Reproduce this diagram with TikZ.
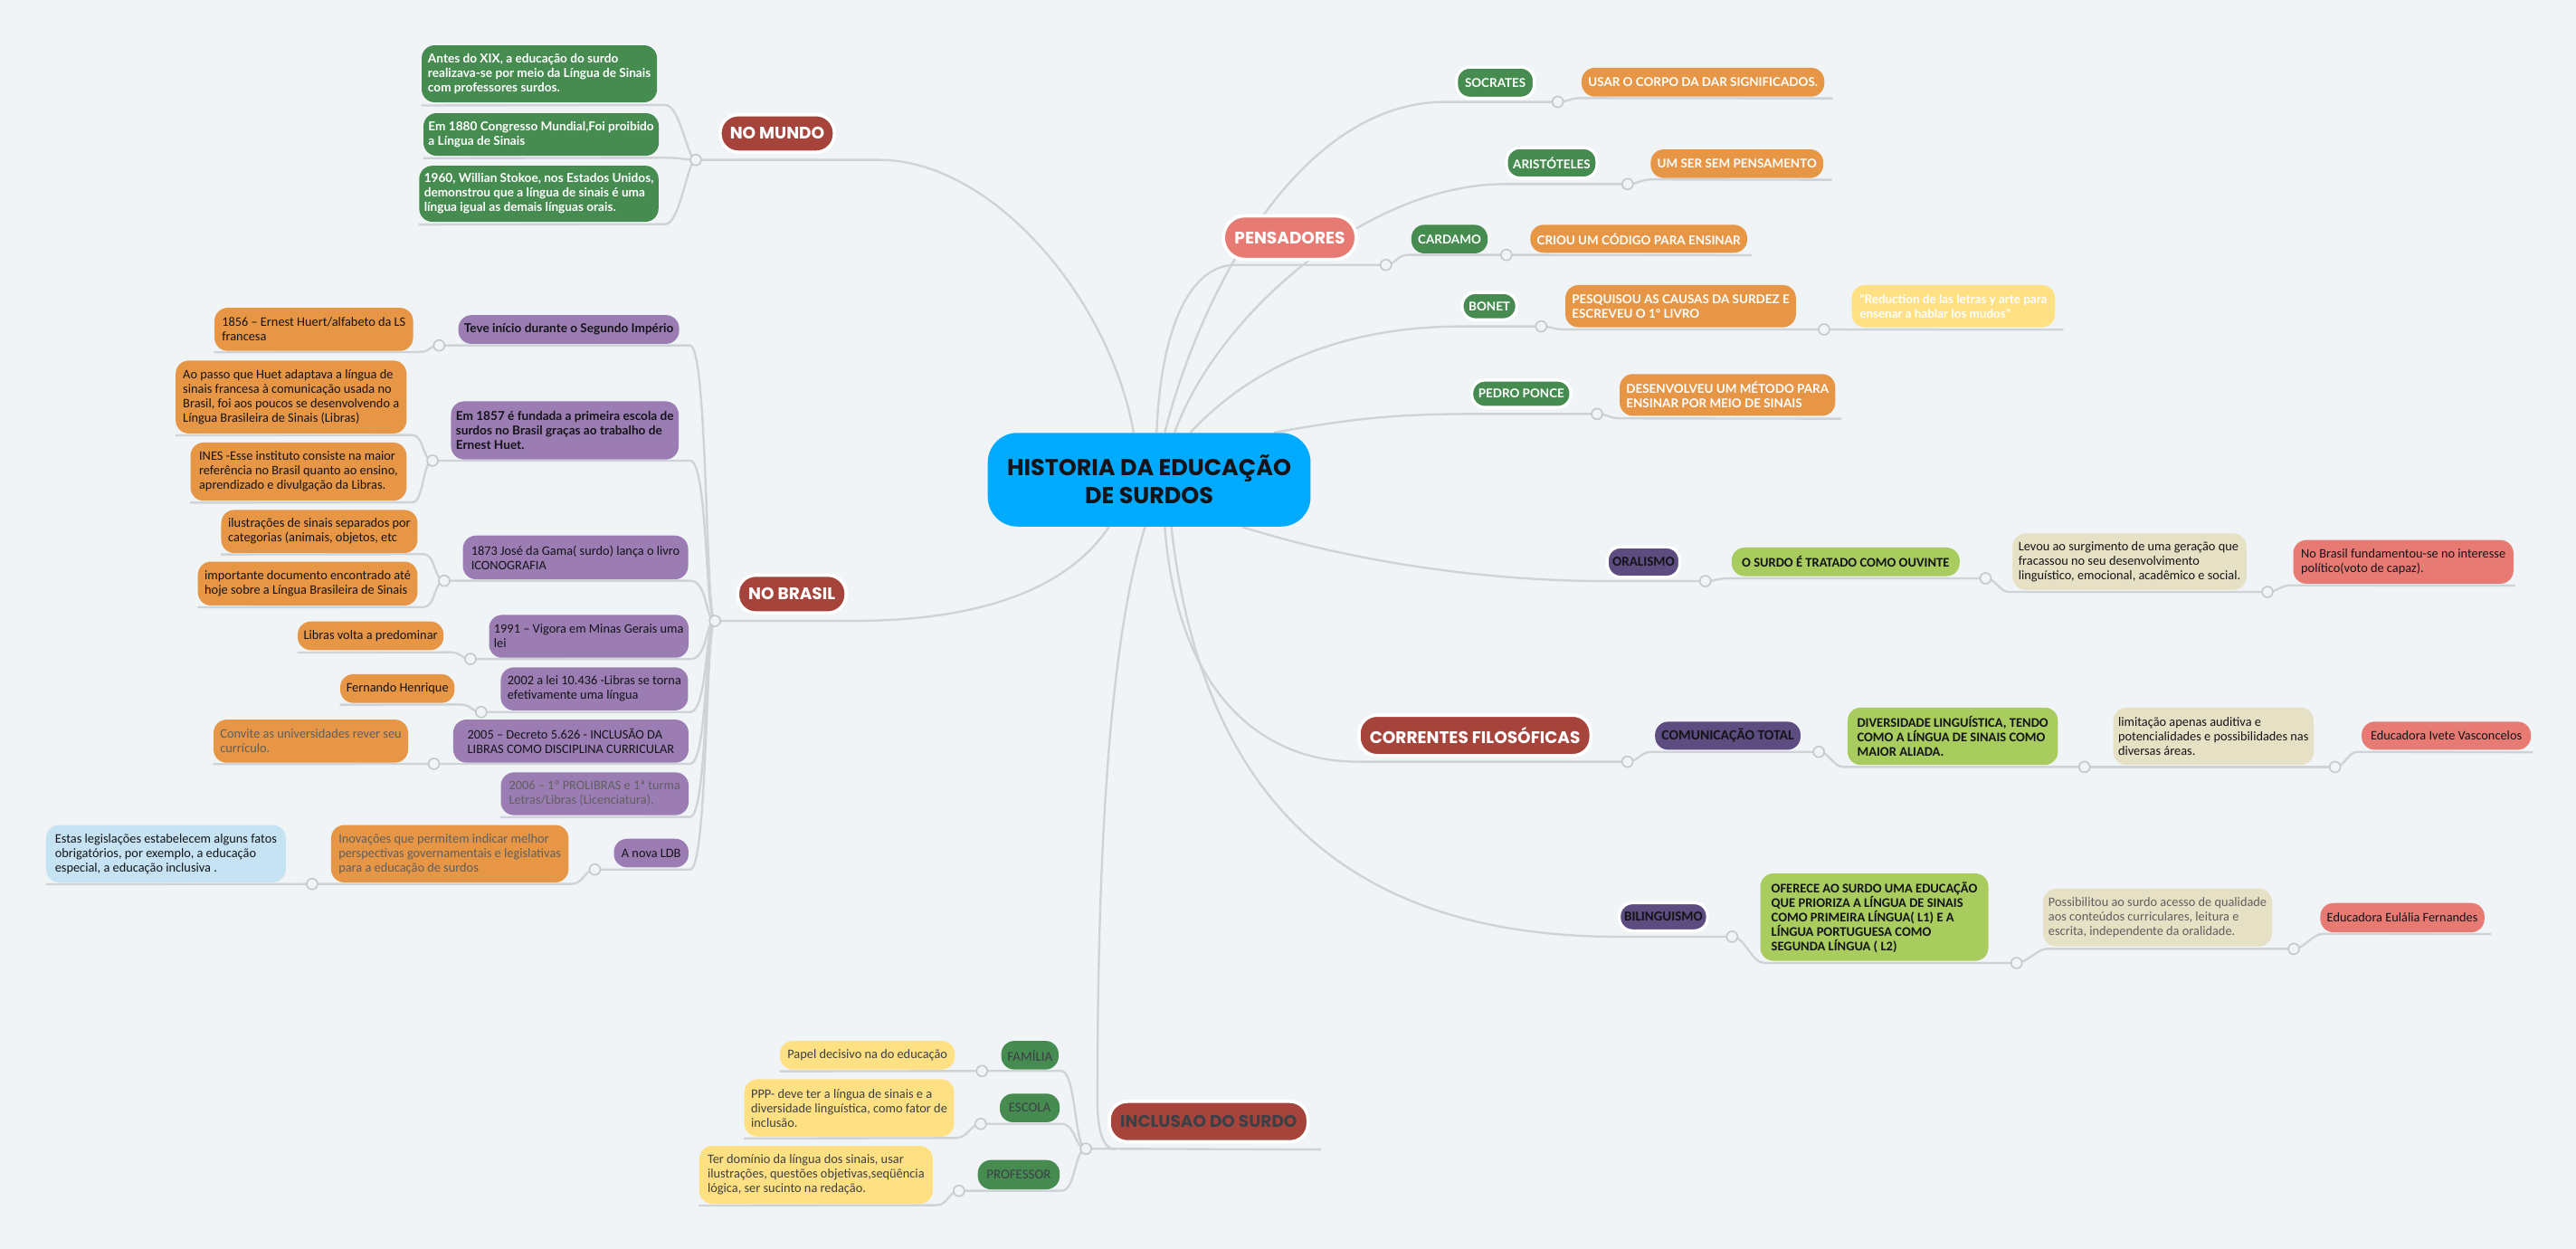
\documentclass[tikz,border=0pt]{standalone}
\usepackage{fontspec}
\setmainfont{Carlito}
\newfontfamily\headfont{Poppins}
\newfontfamily\labelfont{Lato}
\usetikzlibrary{calc}
\definecolor{paperbg}{RGB}{240,244,247}
\definecolor{linegray}{RGB}{206,211,215}
\definecolor{dotgray}{RGB}{196,201,206}
\definecolor{hubblue}{RGB}{0,170,255}
\definecolor{darkred}{RGB}{166,68,60}
\definecolor{salmon}{RGB}{231,123,116}
\definecolor{leaf}{RGB}{70,139,80}
\definecolor{amber}{RGB}{231,150,70}
\definecolor{lilac}{RGB}{155,125,180}
\definecolor{plum}{RGB}{93,76,128}
\definecolor{lime}{RGB}{168,204,94}
\definecolor{sand}{RGB}{230,224,196}
\definecolor{butter}{RGB}{255,224,130}
\definecolor{sky}{RGB}{197,227,243}
\definecolor{ink}{RGB}{20,20,24}
\definecolor{mute}{RGB}{95,95,95}
\definecolor{slate}{RGB}{59,64,71}
\pgfdeclarelayer{paper}
\pgfdeclarelayer{links}
\pgfsetlayers{paper,links,main}

\begin{document}
\begin{tikzpicture}[x=1pt, y=-1pt,
    conn/.style={draw=linegray, line width=1.3},
    dot/.style={circle, draw=dotgray, fill=paperbg, line width=0.9, minimum size=6.6, inner sep=0},
    hub/.style={fill=hubblue, rounded corners=18, inner sep=0, align=center, text=ink, font=\headfont\bfseries\fontsize{14}{17}\selectfont},
    topic/.style={draw=white, line width=2, rounded corners=11, inner sep=0, text=white, font=\headfont\bfseries\fontsize{10.2}{11}\selectfont},
    capsbox/.style={rounded corners=8, inner xsep=4, inner ysep=0, text=white, align=left, font=\labelfont\bfseries\fontsize{7.4}{8.8}\selectfont},
    boldnote/.style={rounded corners=8, inner xsep=3, inner ysep=0, align=left, font=\labelfont\bfseries\fontsize{7.5}{8.8}\selectfont},
    note/.style={rounded corners=8, inner xsep=3, inner ysep=0, align=left, text=ink, font=\fontsize{7.9}{8.8}\selectfont},
    condbold/.style={rounded corners=8, inner xsep=4, inner ysep=0, align=left, text=ink, font=\bfseries\fontsize{8}{8.8}\selectfont}
]
\useasboundingbox (0,0) rectangle (1568,760);
\begin{pgfonlayer}{paper}
\fill[paperbg] (0,0) rectangle (1568,760);
\end{pgfonlayer}

% Central topic
\node[hub, minimum width=196.5, minimum height=57] (hist) at (699.5,291.9) {HISTORIA DA EDUCAÇÃO\\DE SURDOS};

% Main topics
\node[topic, fill=darkred, minimum width=69.6, minimum height=22.8] (mundo) at (473.1,81.2) {NO MUNDO};
\node[topic, fill=darkred, minimum width=66, minimum height=23] (brasil) at (482,361.5) {NO BRASIL};
\node[topic, fill=darkred, text=slate, minimum width=121, minimum height=24.6] (incl) at (735.7,682.5) {INCLUSAO DO SURDO};
\node[topic, fill=salmon, minimum width=80.8, minimum height=26.5, rounded corners=13] (pens) at (785.1,144.6) {PENSADORES};
\node[topic, fill=darkred, minimum width=141.2, minimum height=24.6] (corr) at (897.8,447.5) {CORRENTES FILOSÓFICAS};

% No mundo
\node[boldnote, fill=leaf, text=white, minimum width=143.3, minimum height=34.7] (mundoA) at (328.3,44.9) {Antes do XIX, a educação do surdo\\realizava-se por meio da Língua de Sinais\\com professores surdos.};
\node[boldnote, fill=leaf, text=white, minimum width=142.1, minimum height=25.9] (mundoB) at (329.4,81.8) {Em 1880 Congresso Mundial,Foi proibido\\a Língua de Sinais};
\node[boldnote, fill=leaf, text=white, minimum width=144.9, minimum height=34.1] (mundoC) at (328,117.9) {1960, Willian Stokoe, nos Estados Unidos,\\demonstrou que a língua de sinais é uma\\língua igual as demais línguas orais.};

% No Brasil
\node[boldnote, fill=lilac, text=ink, minimum width=134.4, minimum height=17.5] (brA) at (346.2,200.5) {Teve início durante o Segundo Império};
\node[boldnote, fill=lilac, text=ink, minimum width=137.8, minimum height=35.4] (brB) at (343.8,261.9) {Em 1857 é fundada a primeira escola de\\surdos no Brasil graças ao trabalho de\\Ernest Huet.};
\node[note, fill=lilac, minimum width=137.1, minimum height=26.6] (brC) at (350.3,339.2) {1873 José da Gama( surdo) lança o livro\\ICONOGRAFIA};
\node[note, fill=lilac, minimum width=120.8, minimum height=26.1] (brD) at (358.4,387.2) {1991 – Vigora em Minas Gerais uma\\lei};
\node[note, fill=lilac, minimum width=114, minimum height=26.2] (brE) at (361.8,419.2) {2002 a lei 10.436 -Libras se torna\\efetivamente uma língua};
\node[note, fill=lilac, minimum width=143.2, minimum height=26.2] (brF) at (347.5,451) {2005 – Decreto 5.626 - INCLUSÃO DA\\LIBRAS COMO DISCIPLINA CURRICULAR};
\node[note, fill=lilac, text=mute, minimum width=114.3, minimum height=26] (brG) at (362,483) {2006 – 1º  PROLIBRAS e 1ª turma\\Letras/Libras (Licenciatura).};
\node[note, fill=lilac, minimum width=45.4, minimum height=17.4] (brH) at (396.4,519.1) {A nova LDB};

\node[note, fill=amber, minimum width=120.9, minimum height=26.2] (oA) at (191,200.4) {1856 – Ernest Huert/alfabeto da LS\\francesa};
\node[note, fill=amber, minimum width=140.5, minimum height=44.4] (oB) at (177.2,241.6) {Ao passo que Huet adaptava a língua de\\sinais francesa à comunicação usada no\\Brasil, foi aos poucos se desenvolvendo a\\Língua Brasileira de Sinais (Libras)};
\node[note, fill=amber, minimum width=131.5, minimum height=35.4] (oC) at (181.7,287) {INES -Esse instituto consiste na maior\\referência no Brasil quanto ao ensino,\\aprendizado e divulgação da Libras.};
\node[note, fill=amber, minimum width=119.5, minimum height=26.2] (oD) at (194.4,323.4) {ilustrações de sinais separados por\\categorias (animais, objetos, etc};
\node[note, fill=amber, minimum width=133.7, minimum height=26.7] (oE) at (187.3,355.1) {importante documento encontrado até\\hoje sobre a Língua Brasileira de Sinais};
\node[note, fill=amber, minimum width=88.8, minimum height=17.4] (oF) at (225.6,386.9) {Libras volta a predominar};
\node[note, fill=amber, minimum width=69.6, minimum height=17.5] (oG) at (241.9,419) {Fernando Henrique};
\node[note, fill=amber, text=mute, minimum width=118.4, minimum height=26.2] (oH) at (189.2,451) {Convite as universidades rever seu\\currículo.};
\node[note, fill=amber, text=mute, minimum width=144.5, minimum height=34.9] (oI) at (273.8,519.5) {Inovações que permitem indicar melhor\\perspectivas governamentais e legislativas\\para a educação de surdos};
\node[note, fill=sky, minimum width=145.9, minimum height=34.9] (bI) at (101,519.5) {Estas legislações estabelecem alguns fatos\\obrigatórios, por exemplo, a educação\\especial, a educação inclusiva .};

% Inclusao do surdo
\node[note, fill=leaf, text=slate, font=\fontsize{8.2}{9}\selectfont, minimum width=34.9, minimum height=17.4] (fam) at (626.9,642.1) {FAMÍLIA};
\node[note, fill=leaf, text=slate, font=\fontsize{8.2}{9}\selectfont, minimum width=36.4, minimum height=17.4] (esc) at (626.8,674.2) {ESCOLA};
\node[note, fill=leaf, text=slate, font=\fontsize{8.2}{9}\selectfont, minimum width=49.8, minimum height=17.8] (prof) at (620.1,714.8) {PROFESSOR};
\node[note, fill=butter, text=slate, minimum width=106.5, minimum height=17.4] (yFam) at (528,642.1) {Papel decisivo na do educação};
\node[note, fill=butter, text=slate, minimum width=127.7, minimum height=34.9] (yEsc) at (516.9,674.2) {PPP- deve ter a língua de sinais e a\\diversidade linguística, como fator de\\inclusão.};
\node[note, fill=butter, text=slate, minimum width=142.1, minimum height=35.2] (yProf) at (496.7,714.9) {Ter domínio da língua dos sinais, usar\\ilustrações,  questões objetivas,seqüência\\lógica, ser sucinto na redação.};

% Pensadores
\node[capsbox, fill=leaf, draw=white, line width=1.8, minimum width=47.3, minimum height=18.8] (socr) at (910.2,50.3) {SOCRATES};
\node[capsbox, fill=leaf, draw=white, line width=1.8, minimum width=55, minimum height=18.4] (arist) at (944.5,99.1) {ARISTÓTELES};
\node[capsbox, fill=leaf, minimum width=45.4, minimum height=17.4] (card) at (882.3,145.5) {CARDAMO};
\node[capsbox, fill=leaf, draw=white, line width=1.8, minimum width=30.7, minimum height=16.5] (bonet) at (906.6,186.3) {BONET};
\node[capsbox, fill=leaf, draw=white, line width=1.8, minimum width=56.3, minimum height=16.6] (ponce) at (926,239.6) {PEDRO PONCE};
\node[capsbox, fill=amber, minimum width=145.2, minimum height=17.5] (socrA) at (1036.6,50) {USAR O CORPO DA DAR SIGNIFICADOS.};
\node[capsbox, fill=amber, minimum width=101, minimum height=17.4] (aristA) at (1057.3,99.6) {UM SER SEM PENSAMENTO};
\node[capsbox, fill=amber, minimum width=129.1, minimum height=17] (cardA) at (997.5,145.3) {CRIOU UM CÓDIGO PARA ENSINAR};
\node[capsbox, fill=amber, minimum width=138.2, minimum height=25.7] (bonetA) at (1023,186.3) {PESQUISOU AS CAUSAS DA SURDEZ E\\ESCREVEU O 1º LIVRO};
\node[capsbox, fill=butter, minimum width=123.7, minimum height=25.7] (bonetB) at (1189,186.3) {"Reduction de las letras y arte para\\ensenar a hablar los mudos"};
\node[capsbox, fill=amber, minimum width=127.2, minimum height=25.4] (ponceA) at (1051.5,240.3) {DESENVOLVEU UM MÉTODO PARA\\ENSINAR POR MEIO DE SINAIS};

% Correntes filosoficas
\node[condbold, fill=plum, draw=white, line width=1.8, inner xsep=3, font=\bfseries\fontsize{8.3}{9}\selectfont, minimum width=44.2, minimum height=18.4] (oral) at (1000.4,342) {ORALISMO};
\node[condbold, fill=plum, font=\bfseries\fontsize{8.6}{9}\selectfont, minimum width=87.7, minimum height=17.1] (comu) at (1051.7,447.7) {COMUNICAÇÃO TOTAL};
\node[condbold, fill=plum, draw=white, line width=1.8, inner xsep=3, font=\bfseries\fontsize{8.3}{9}\selectfont, minimum width=52.2, minimum height=17] (bili) at (1012.5,557.9) {BILINGUISMO};

\node[condbold, fill=lime, minimum width=138.8, minimum height=17.4] (oralA) at (1123.4,341.9) {O SURDO É TRATADO COMO OUVINTE};
\node[note, fill=sand, minimum width=142.4, minimum height=34.3] (oralB) at (1296.2,341.8) {Levou ao surgimento de uma geração que\\fracassou no seu desenvolvimento\\linguístico, emocional, acadêmico e social.};
\node[note, fill=salmon, minimum width=134, minimum height=26.6] (oralC) at (1462.9,341.9) {No Brasil fundamentou-se no  interesse\\político(voto de capaz).};

\node[condbold, fill=lime, minimum width=128, minimum height=34.9] (comuA) at (1188.6,448) {DIVERSIDADE LINGUÍSTICA, TENDO\\COMO A LÍNGUA DE SINAIS COMO\\MAIOR ALIADA.};
\node[note, fill=sand, minimum width=122, minimum height=34.9] (comuB) at (1347.3,448) {limitação apenas auditiva e\\potencialidades e possibilidades nas\\diversas áreas.};
\node[note, fill=salmon, minimum width=103, minimum height=17.1] (comuC) at (1489,447.7) {Educadora Ivete Vasconcelos};

\node[condbold, fill=lime, minimum width=138.8, minimum height=53.2] (biliA) at (1140.9,558.1) {OFERECE AO SURDO UMA EDUCAÇÃO\\QUE PRIORIZA A LÍNGUA DE SINAIS\\COMO PRIMEIRA LÍNGUA( L1) E A\\LÍNGUA PORTUGUESA COMO\\SEGUNDA LÍNGUA ( L2)};
\node[note, fill=sand, text=mute, minimum width=139.4, minimum height=35.2] (biliB) at (1313.3,558.3) {Possibilitou ao surdo acesso de qualidade\\aos conteúdos curriculares, leitura e\\escrita, independente da oralidade.};
\node[note, fill=salmon, minimum width=99.9, minimum height=17.8] (biliC) at (1462.3,558.4) {Educadora Eulália Fernandes};

% Junction dots
\node[dot] (jMundo) at (423.5,97.3) {};
\node[dot] (jBrasil) at (435.2,377.8) {};
\node[dot] (jBrA) at (267.3,210.2) {};
\node[dot] (jBrB) at (263.3,280.3) {};
\node[dot] (jBrC) at (270.4,353.4) {};
\node[dot] (jBrD) at (286.4,401) {};
\node[dot] (jBrE) at (292.9,433.3) {};
\node[dot] (jBrF) at (264.1,464.8) {};
\node[dot] (jBrH) at (362.1,529.1) {};
\node[dot] (jOI) at (190,537.9) {};
\node[dot] (jIncl) at (661,699) {};
\node[dot] (jFam) at (597.7,651.7) {};
\node[dot] (jEsc) at (596.9,683.9) {};
\node[dot] (jProf) at (583.7,724.6) {};
\node[dot] (jPens) at (843.6,161.2) {};
\node[dot] (jCard) at (916.9,155.1) {};
\node[dot] (jSocr) at (948.2,62) {};
\node[dot] (jArist) at (990.7,112) {};
\node[dot] (jBonet) at (938.1,198.6) {};
\node[dot] (jBonA) at (1110.3,200.5) {};
\node[dot] (jPonce) at (972.1,251.9) {};
\node[dot] (jOral) at (1038,353.6) {};
\node[dot] (jOralA) at (1208.6,351.9) {};
\node[dot] (jOralB) at (1380.2,360.2) {};
\node[dot] (jCorr) at (990.6,463.5) {};
\node[dot] (jComu) at (1107.1,457.5) {};
\node[dot] (jComuA) at (1268.8,466.7) {};
\node[dot] (jComuB) at (1421.3,466.7) {};
\node[dot] (jBili) at (1054.3,570) {};
\node[dot] (jBiliA) at (1227.5,586) {};
\node[dot] (jBiliB) at (1396.2,577.4) {};

\begin{pgfonlayer}{links}
% Center to main branches
\draw[conn] ($(hist.north)+(-9.5,0)$) .. controls +(-14,-80) and +(70,0) .. (535,97.3) -- (jMundo.center);
\draw[conn] ($(hist.south)+(-24.5,0)$) .. controls +(-30,45) and +(60,0) .. (520,377.8) -- (jBrasil.center);
\draw[conn] ($(hist.south)+(-2.5,0)$) .. controls +(-22,70) and +(0,-150) .. (668,670) .. controls +(0,20) and +(-7,0) .. ($(incl.south west)+(5,3.7)$);
\draw[conn] ($(hist.north)+(4.5,0)$) .. controls +(3,-70) and +(-25,0) .. (752,161.2) -- (jPens.center);
\draw[conn] ($(hist.north)+(9.5,0)$) .. controls +(21,-83) and +(-90,0) .. (880,62) -- (jSocr.center);
\draw[conn] ($(hist.north)+(15.5,0)$) .. controls +(25,-70) and +(-85,0) .. (916,112) -- (jArist.center);
\draw[conn] ($(hist.north)+(25,0)$) .. controls +(45,-48) and +(-60,0) .. (890,198.6) -- (jBonet.center);
\draw[conn] ($(hist.north)+(76,0)$) .. controls +(45,-8) and +(-50,0) .. (897,251.9) -- (jPonce.center);
\draw[conn] ($(hist.south)+(56.5,0)$) .. controls +(70,22) and +(-70,0) .. (977,353.6) -- (jOral.center);
\draw[conn] ($(hist.south)+(9.5,0)$) .. controls +(8,105) and +(-55,0) .. (826,463.5) -- (jCorr.center);
\draw[conn] ($(hist.south)+(13.5,0)$) .. controls +(20,180) and +(-150,0) .. (985,570) -- (jBili.center);

% No mundo
\draw[conn] (jMundo.center) .. controls +(-5,0) and +(9,0) .. (405,63.9) -- ($(mundoA.south west)+(0,1.7)$);
\draw[conn] (jMundo.center) .. controls +(-5,0) and +(9,0) .. (405,96) -- ($(mundoB.south west)+(0,1.3)$);
\draw[conn] (jMundo.center) .. controls +(-5,0) and +(9,0) .. (405,136.4) -- ($(mundoC.south west)+(0,1.5)$);

% No Brasil
\draw[conn] (jBrasil.center) .. controls +(-6,0) and +(11,0) .. (420,210.2) -- (jBrA.center);
\draw[conn] (jBrasil.center) .. controls +(-6,0) and +(11,0) .. (420,280.3) -- (jBrB.center);
\draw[conn] (jBrasil.center) .. controls +(-6,0) and +(11,0) .. (420,353.4) -- (jBrC.center);
\draw[conn] (jBrasil.center) .. controls +(-6,0) and +(11,0) .. (420,401.1) -- (jBrD.center);
\draw[conn] (jBrasil.center) .. controls +(-6,0) and +(11,0) .. (420,433.3) -- (jBrE.center);
\draw[conn] (jBrasil.center) .. controls +(-6,0) and +(11,0) .. (420,464.8) -- (jBrF.center);
\draw[conn] (jBrasil.center) .. controls +(-6,0) and +(11,0) .. (420,497.1) -- ($(brG.south west)+(0,1.1)$);
\draw[conn] (jBrasil.center) .. controls +(-6,0) and +(11,0) .. (420,529.1) -- (jBrH.center);
\draw[conn] (jBrA.center) .. controls +(-6,0) and +(7,0) .. (255,214.2) -- ($(oA.south west)+(0,0.7)$);
\draw[conn] (jBrB.center) .. controls +(-6,0) and +(7,0) .. (251,264.7) -- ($(oB.south west)+(0,0.9)$);
\draw[conn] (jBrB.center) .. controls +(-6,0) and +(7,0) .. (251,305.7) -- ($(oC.south west)+(0,1)$);
\draw[conn] (jBrC.center) .. controls +(-6,0) and +(7,0) .. (258,337.2) -- ($(oD.south west)+(0,0.7)$);
\draw[conn] (jBrC.center) .. controls +(-6,0) and +(7,0) .. (258,369.4) -- ($(oE.south west)+(0,0.9)$);
\draw[conn] (jBrD.center) .. controls +(-6,0) and +(7,0) .. (274,396.9) -- ($(oF.south west)+(0,1.3)$);
\draw[conn] (jBrE.center) .. controls +(-6,0) and +(7,0) .. (280,428.7) -- ($(oG.south west)+(0,0.9)$);
\draw[conn] (jBrF.center) -- ($(oH.south west)+(0,0.7)$);
\draw[conn] (jBrH.center) .. controls +(-6,0) and +(7,0) .. (348,537.9) -- (jOI.center);
\draw[conn] (jOI.center) -- ($(bI.south west)+(0,0.9)$);

% Inclusao do surdo
\draw[conn] (jIncl.center) -- ($(incl.south east)+(7,3.7)$);
\draw[conn] (jIncl.center) .. controls +(-7,0) and +(9,0) .. (646,651.7) -- (jFam.center);
\draw[conn] (jIncl.center) .. controls +(-7,0) and +(9,0) .. (646,683.9) -- (jEsc.center);
\draw[conn] (jIncl.center) .. controls +(-7,0) and +(9,0) .. (646,724.6) -- (jProf.center);
\draw[conn] (jFam.center) -- ($(yFam.south west)+(0,0.9)$);
\draw[conn] (jEsc.center) .. controls +(-6,0) and +(7,0) .. (582,692.5) -- ($(yEsc.south west)+(0,0.9)$);
\draw[conn] (jProf.center) .. controls +(-6,0) and +(7,0) .. (570,733.4) -- ($(yProf.south west)+(0,0.9)$);

% Pensadores
\draw[conn] (jPens.center) .. controls +(6,0) and +(-7,0) .. (857,155.1) -- (jCard.center);
\draw[conn] (jCard.center) -- ($(cardA.south east)+(2.6,1.3)$);
\draw[conn] (jSocr.center) .. controls +(6,0) and +(-6,0) .. (962,59.7) -- ($(socrA.south east)+(5,0.9)$);
\draw[conn] (jArist.center) .. controls +(6,0) and +(-6,0) .. (1005,109.2) -- ($(aristA.south east)+(5,0.9)$);
\draw[conn] (jBonet.center) .. controls +(6,0) and +(-6,0) .. (952,200.5) -- (jBonA.center);
\draw[conn] (jBonA.center) -- ($(bonetB.south east)+(4.8,1.3)$);
\draw[conn] (jPonce.center) .. controls +(6,0) and +(-6,0) .. (986,254.6) -- ($(ponceA.south east)+(3.6,1.6)$);

% Correntes filosoficas
\draw[conn] (jOral.center) .. controls +(6,0) and +(-6,0) .. (1052,351.9) -- (jOralA.center);
\draw[conn] (jOralA.center) .. controls +(6,0) and +(-6,0) .. (1223,360.2) -- (jOralB.center);
\draw[conn] (jOralB.center) .. controls +(6,0) and +(-6,0) .. (1394,356.2) -- ($(oralC.south east)+(1,0.9)$);
\draw[conn] (jCorr.center) .. controls +(6,0) and +(-6,0) .. (1005,457.5) -- (jComu.center);
\draw[conn] (jComu.center) .. controls +(6,0) and +(-6,0) .. (1122,466.7) -- (jComuA.center);
\draw[conn] (jComuA.center) -- (jComuB.center);
\draw[conn] (jComuB.center) .. controls +(6,0) and +(-6,0) .. (1435,457.5) -- ($(comuC.south east)+(1,1.3)$);
\draw[conn] (jBili.center) .. controls +(8,0) and +(-8,0) .. (1074,586) -- (jBiliA.center);
\draw[conn] (jBiliA.center) .. controls +(6,0) and +(-6,0) .. (1246,577.4) -- (jBiliB.center);
\draw[conn] (jBiliB.center) .. controls +(6,0) and +(-6,0) .. (1414,568.2) -- ($(biliC.south east)+(3.8,0.9)$);
\end{pgfonlayer}

\end{tikzpicture}
\end{document}
